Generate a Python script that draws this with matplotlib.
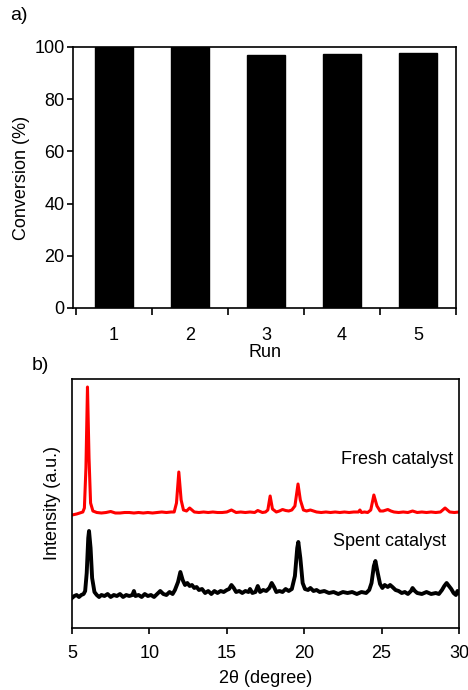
import matplotlib
matplotlib.use("Agg")
import matplotlib.pyplot as plt

plt.rcParams['font.family'] = ['Liberation Sans', 'DejaVu Sans']

# ---- panel a data ----
runs = ["1", "2", "3", "4", "5"]
conversion = [100.0, 100.0, 97.0, 97.3, 97.7]

# ---- panel b data (key points, arbitrary intensity units) ----
fresh_x = [5.0, 5.3, 5.5, 5.7, 5.8, 5.9, 6.0, 6.1, 6.2, 6.35, 6.6, 6.9, 7.2, 7.5, 7.8, 8.1,
           8.4, 8.7, 9.0, 9.3, 9.6, 9.9, 10.2, 10.5, 10.8, 11.1, 11.4, 11.6, 11.75, 11.9,
           12.05, 12.2, 12.4, 12.6, 12.9, 13.2, 13.5, 13.8, 14.1, 14.4, 14.7, 15.0, 15.3,
           15.6, 15.9, 16.2, 16.5, 16.8, 17.0, 17.3, 17.5, 17.65, 17.8, 17.95, 18.2, 18.4,
           18.6, 18.8, 19.0, 19.2, 19.4, 19.6, 19.75, 19.95, 20.15, 20.4, 20.6, 20.8, 21.1,
           21.4, 21.7, 22.0, 22.3, 22.6, 22.9, 23.2, 23.5, 23.6, 23.7, 23.9, 24.1, 24.3,
           24.5, 24.7, 24.9, 25.1, 25.4, 25.6, 25.8, 26.1, 26.4, 26.7, 27.0, 27.3, 27.6,
           27.9, 28.2, 28.5, 28.8, 29.1, 29.4, 29.7, 30.0]
fresh_y = [113, 114, 115, 116, 120, 160, 241, 170, 125, 117, 115.5, 115, 115.5, 116.5, 115,
           115, 115.5, 115.5, 115, 115.5, 115, 115.5, 115, 115.5, 116, 115.5, 116, 116,
           125, 156, 128, 118, 117, 120, 116, 115.5, 116, 115.5, 116, 115.5, 115.5, 116, 118,
           115.5, 116, 115.5, 116, 115.5, 117.5, 115.5, 116, 118, 132, 119, 116, 117,
           118.5, 117.5, 117, 118, 122, 144, 128, 118, 117, 118, 117, 116, 115.5,
           116, 115.5, 116, 115.5, 116, 115.5, 116, 116, 118, 115.5, 116, 115.5, 118,
           133, 122, 117, 117, 118.5, 117, 116, 115.5, 116, 115.5, 117, 115.5, 116,
           115.5, 116, 115.5, 116, 120, 116, 115.5, 116]

spent_x = [5.0, 5.15, 5.3, 5.45, 5.6, 5.75, 5.85, 5.95, 6.05, 6.1, 6.2, 6.3, 6.45, 6.6, 6.75,
           6.9, 7.1, 7.3, 7.5, 7.7, 7.9, 8.1, 8.3, 8.5, 8.7, 8.9, 9.0, 9.1, 9.3, 9.5, 9.7,
           9.9, 10.1, 10.3, 10.5, 10.7, 10.9, 11.1, 11.3, 11.5, 11.65, 11.85, 12.0, 12.15,
           12.3, 12.45, 12.6, 12.75, 12.9, 13.05, 13.2, 13.4, 13.6, 13.8, 14.0, 14.2, 14.4,
           14.6, 14.8, 15.0, 15.15, 15.3, 15.45, 15.6, 15.8, 16.0, 16.2, 16.4, 16.5, 16.65,
           16.85, 17.0, 17.15, 17.35, 17.55, 17.75, 17.9, 18.05, 18.2, 18.4, 18.6, 18.8,
           19.0, 19.2, 19.4, 19.55, 19.62, 19.75, 19.9, 20.05, 20.25, 20.4, 20.6, 20.8, 21.0,
           21.3, 21.6, 21.9, 22.2, 22.5, 22.8, 23.1, 23.4, 23.7, 24.0, 24.2, 24.35, 24.5,
           24.6, 24.75, 24.9, 25.05, 25.2, 25.4, 25.55, 25.7, 25.9, 26.1, 26.3, 26.5, 26.7,
           26.9, 27.0, 27.15, 27.3, 27.6, 27.9, 28.2, 28.5, 28.7, 28.9, 29.05, 29.2, 29.35,
           29.5, 29.65, 29.8, 29.9, 30.0]
spent_y = [30, 32, 33, 31, 33, 34, 37, 55, 90, 97, 80, 50, 36, 33, 31,
           33, 32, 34, 31, 33, 32, 34, 31, 33, 32, 33, 37, 32, 33, 31, 34,
           32, 33, 31, 34, 37, 34, 33, 36, 34, 38, 46, 56, 48,
           43, 45, 42, 43, 40, 41, 38, 39, 35, 37, 34, 37, 35,
           37, 36, 38, 39, 43, 40, 36, 37, 35, 37, 36, 39, 35,
           36, 42, 36, 38, 37, 40, 45, 41, 36, 37, 36, 39,
           37, 39, 52, 80, 86, 70, 45, 39, 38, 40, 37, 38, 36,
           37, 35, 36, 34, 36, 35, 36, 34, 36, 35, 38, 45, 62,
           67, 55, 44, 40, 43, 41, 43, 41, 38, 37, 35, 36, 34,
           37, 40, 37, 35, 34, 36, 34, 35, 34, 38, 42, 45, 42,
           39, 35, 33, 37, 35]

xrd_ticks = [5, 10, 15, 20, 25, 30]

fig = plt.figure(figsize=(4.68, 6.90), dpi=100)

# ---------------- panel a ----------------
ax1 = fig.add_axes([73/468, 1-308/690, 383/468, 261/690])
pos = list(range(1, len(runs) + 1))
ax1.bar(pos, conversion, width=0.5, color='black', edgecolor='black')
ax1.set_xlim(0.46, 5.5)
ax1.set_ylim(0, 100)
ax1.set_yticks([0, 20, 40, 60, 80, 100])
ax1.set_xticks(pos)
ax1.set_xticklabels(runs)
ax1.set_xticks([0.5, 1.5, 2.5, 3.5, 4.5, 5.5], minor=True)
ax1.tick_params(axis='x', which='major', length=0, pad=14, labelsize=13)
ax1.tick_params(axis='x', which='minor', length=5, width=1.2, direction='out')
ax1.tick_params(axis='y', length=4, width=1.2, direction='out', labelsize=13, pad=2)
for s in ax1.spines.values():
    s.set_linewidth(1.2)
ax1.set_ylabel("Conversion (%)", fontsize=13, labelpad=3)
ax1.set_xlabel("Run", fontsize=13, labelpad=0)
fig.text(10/468, 1-15/690, "a)", fontsize=14, ha='left', va='center')

# ---------------- panel b ----------------
ax2 = fig.add_axes([72/468, 1-628/690, 387/468, 249/690])
ax2.plot(fresh_x, fresh_y, color='red', lw=2.2)
ax2.plot(spent_x, spent_y, color='black', lw=2.8)
ax2.set_xlim(5, 30)
ax2.set_ylim(0, 249)
ax2.set_xticks(xrd_ticks)
ax2.set_yticks([])
ax2.tick_params(axis='x', length=4, width=1.2, direction='out', labelsize=13, pad=8)
for s in ax2.spines.values():
    s.set_linewidth(1.2)
ax2.set_xlabel("2θ (degree)", fontsize=13, labelpad=6)
ax2.set_ylabel("Intensity (a.u.)", fontsize=13, labelpad=8)
ax2.text(29.6, 168, "Fresh catalyst", fontsize=13, ha='right', va='center')
ax2.text(29.2, 87, "Spent catalyst", fontsize=13, ha='right', va='center')
fig.text(32/468, 1-365/690, "b)", fontsize=14, ha='left', va='center')

fig.savefig("out.png", dpi=100)
